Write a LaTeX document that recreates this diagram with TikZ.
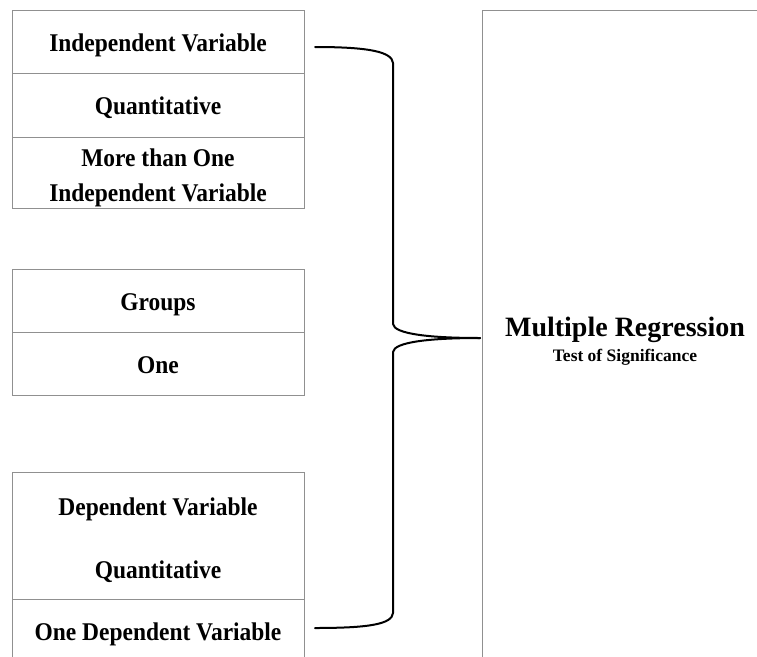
\documentclass[tikz,border=0pt]{standalone}
\usepackage{fontspec}
\usetikzlibrary{calc}
\setmainfont{Liberation Serif}[BoldFont={Liberation Serif Bold}]
\newfontfamily\cellfont{Liberation Serif Bold}[FakeStretch=0.92]
\newfontfamily\titlefont{Liberation Serif Bold}
\definecolor{frame}{HTML}{909090}
\begin{document}
\begin{tikzpicture}[x=1pt,y=-1pt,
  cellbox/.style={draw=frame, line width=0.9pt, rectangle, inner sep=0pt, outer sep=0pt,
    minimum width=292pt, anchor=north west, align=center,
    font=\cellfont\fontsize{25.5}{35}\selectfont},
  cell/.style={cellbox, text height=22pt, text depth=3pt},
  opencell/.style={cell, draw=none},
  celltext/.style={anchor=base, inner sep=0pt, font=\cellfont\fontsize{25.5}{35}\selectfont},
  side/.style={draw=frame, line width=0.9pt},
  brace/.style={draw=black, line width=2pt, line cap=round, line join=round}]
\useasboundingbox (0,0) rectangle (757,656);
\clip (0,0) rectangle (757,656);

% first group
\node[cell, minimum height=63pt] (c1) at (12,10) {Independent Variable};
\node[cell, minimum height=64pt] (c2) at (c1.south west) {Quantitative};
\node[cellbox, minimum height=71pt] (c3) at (c2.south west) {};
\node[celltext] (c3a) at ($(c3.north)+(0,29.5)$) {More than One};
\node[celltext] (c3b) at ($(c3.north)+(0,64.5)$) {Independent Variable};

% second group
\node[cell, minimum height=63pt] (c4) at (12,269) {Groups};
\node[cell, minimum height=63pt] (c5) at (c4.south west) {One};

% third group
\node[cellbox, minimum height=127pt] (c6) at (12,472) {};
\node[celltext] (c6a) at ($(c6.north)+(0,43)$) {Dependent Variable};
\node[celltext] (c6b) at ($(c6.north)+(0,106)$) {Quantitative};
\node[opencell, minimum height=64pt] (c7) at (c6.south west) {One Dependent Variable};
\draw[side] (c7.north west) -- (c7.south west);
\draw[side] (c7.north east) -- (c7.south east);

% result panel, open to the right and below
\node[draw=frame, line width=0.9pt, rectangle, inner sep=0pt, outer sep=0pt, anchor=north west,
  minimum width=300pt, minimum height=680pt] (mr) at (482,10) {};
\node[anchor=base, inner sep=0pt, font=\titlefont\fontsize{28}{30}\selectfont]
  (mrtitle) at (625,336) {Multiple Regression};
\node[anchor=base, inner sep=0pt, font=\titlefont\fontsize{17.5}{20}\selectfont]
  (mrsub) at (625,361) {Test of Significance};

% curly brace joining the requirements to the result
\coordinate (bt) at ([xshift=11pt]c1.east |- 0,47);
\coordinate (bb) at ([xshift=11pt]c7.east |- 0,628);
\coordinate (bm) at ([xshift=-2pt]mr.west |- 0,338);
\draw[brace] (bt) .. controls (370,47) and (392,52) .. (393,63) -- (393,324)
  .. controls (394,334) and (430,338) .. (bm);
\draw[brace] (bm) .. controls (430,338) and (394,342) .. (393,352) -- (393,613)
  .. controls (392,624) and (370,628) .. (bb);
\end{tikzpicture}
\end{document}
